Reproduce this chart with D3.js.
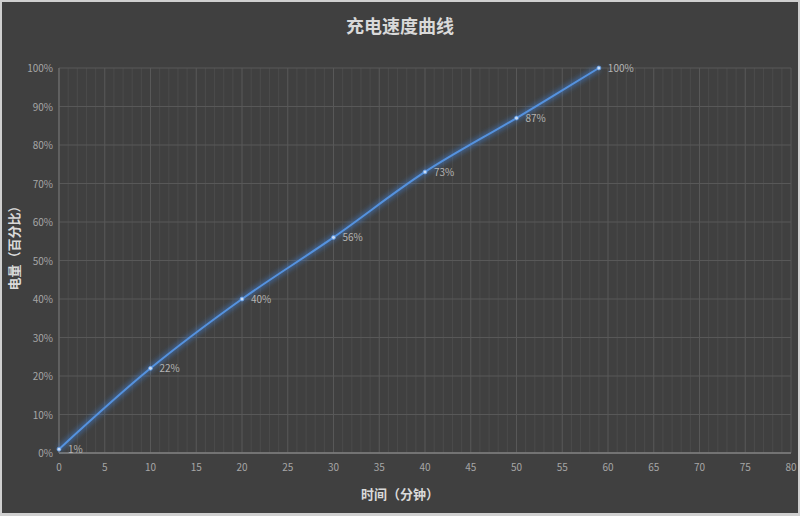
<!DOCTYPE html>
<html>
<head>
    <meta charset="utf-8">
    <title>充电速度曲线</title>
    <style>
        body { margin: 0; background: #ffffff; }
        text { font-family: "Noto Sans CJK SC", "Noto Sans", sans-serif; }
    </style>
    <script src="https://d3js.org/d3.v7.min.js"></script>
</head>
<body>
<svg id="chart" width="800" height="516"></svg>
<script>
    // data
    var minutes = [0, 10, 20, 30, 40, 50, 59];
    var charge = [1, 22, 40, 56, 73, 87, 100];
    var xTicks = d3.range(0, 81, 5);
    var yTicks = d3.range(0, 101, 10);

    var svg = d3.select("#chart");
    var width = 800, height = 516;
    var margin = {top: 68, right: 9, bottom: 63, left: 59};

    // frame + background
    svg.append("rect").attr("x", 0).attr("y", 0).attr("width", width).attr("height", height)
        .attr("fill", "#d0d0d0");
    svg.append("rect").attr("x", 2).attr("y", 2).attr("width", width - 4).attr("height", height - 5)
        .attr("fill", "#404040");

    var x = d3.scaleLinear().domain([0, 80]).range([margin.left, width - margin.right]);
    var y = d3.scaleLinear().domain([0, 100]).range([height - margin.bottom, margin.top]);

    var defs = svg.append("defs");
    var glow = defs.append("filter").attr("id", "glow")
        .attr("x", "-20%").attr("y", "-20%").attr("width", "140%").attr("height", "140%");
    glow.append("feGaussianBlur").attr("stdDeviation", 2.5).attr("result", "blur");

    // minor vertical grid (every minute)
    svg.append("g").selectAll("line")
        .data(d3.range(0, 81, 1).filter(function(d) { return d % 5 !== 0; }))
        .join("line")
        .attr("x1", d => x(d)).attr("x2", d => x(d))
        .attr("y1", y(100)).attr("y2", y(0))
        .attr("stroke", "#4b4b4b").attr("stroke-width", 1);

    // major vertical grid
    svg.append("g").selectAll("line")
        .data(xTicks)
        .join("line")
        .attr("x1", d => x(d)).attr("x2", d => x(d))
        .attr("y1", y(100)).attr("y2", y(0))
        .attr("stroke", "#585858").attr("stroke-width", 1);

    // horizontal grid
    svg.append("g").selectAll("line")
        .data(yTicks)
        .join("line")
        .attr("x1", x(0)).attr("x2", x(80))
        .attr("y1", d => y(d)).attr("y2", d => y(d))
        .attr("stroke", "#585858").attr("stroke-width", 1);

    // axes lines
    svg.append("line").attr("x1", x(0)).attr("x2", x(80)).attr("y1", y(0)).attr("y2", y(0))
        .attr("stroke", "#808080").attr("stroke-width", 1.5);
    svg.append("line").attr("x1", x(0)).attr("x2", x(0)).attr("y1", y(100)).attr("y2", y(0))
        .attr("stroke", "#6e6e6e").attr("stroke-width", 1.2);

    // tick labels
    svg.append("g").selectAll("text")
        .data(xTicks)
        .join("text")
        .attr("x", d => x(d)).attr("y", y(0) + 18)
        .attr("text-anchor", "middle")
        .attr("fill", "#a6a6a6").style("font-size", "10px")
        .text(d => d);

    svg.append("g").selectAll("text")
        .data(yTicks)
        .join("text")
        .attr("x", x(0) - 6).attr("y", d => y(d) + 4)
        .attr("text-anchor", "end")
        .attr("fill", "#a6a6a6").style("font-size", "10px")
        .text(d => d + "%");

    // title and axis titles
    svg.append("text").attr("x", 400).attr("y", 33)
        .attr("text-anchor", "middle").attr("fill", "#d9d9d9")
        .style("font-size", "18px").style("font-weight", "bold")
        .text("充电速度曲线");

    svg.append("text").attr("x", 400).attr("y", 499)
        .attr("text-anchor", "middle").attr("fill", "#d9d9d9")
        .style("font-size", "13px").style("font-weight", "bold")
        .text("时间（分钟）");

    svg.append("text")
        .attr("transform", "translate(19,245) rotate(-90)")
        .attr("text-anchor", "middle").attr("fill", "#d9d9d9")
        .style("font-size", "13px").style("font-weight", "bold")
        .text("电量（百分比）");

    // line
    var pts = minutes.map(function(m, i) { return [m, charge[i]]; });
    var line = d3.line()
        .x(d => x(d[0])).y(d => y(d[1]))
        .curve(d3.curveCatmullRom.alpha(0.5));

    svg.append("path").datum(pts)
        .attr("d", line)
        .attr("fill", "none").attr("stroke", "#3f7fd0").attr("stroke-width", 5)
        .attr("stroke-opacity", 0.6).attr("filter", "url(#glow)");
    svg.append("path").datum(pts)
        .attr("d", line)
        .attr("fill", "none").attr("stroke", "#5592de").attr("stroke-width", 2);

    // markers
    svg.append("g").selectAll("circle")
        .data(pts)
        .join("circle")
        .attr("cx", d => x(d[0])).attr("cy", d => y(d[1]))
        .attr("r", 2)
        .attr("fill", "#c8dcf5").attr("stroke", "#5592de").attr("stroke-width", 0.8);

    // data labels
    svg.append("g").selectAll("text")
        .data(pts)
        .join("text")
        .attr("x", d => x(d[0]) + 9).attr("y", d => y(d[1]) + 4)
        .attr("fill", "#b4b4b4").style("font-size", "10px")
        .text(d => d[1] + "%");
</script>
</body>
</html>
